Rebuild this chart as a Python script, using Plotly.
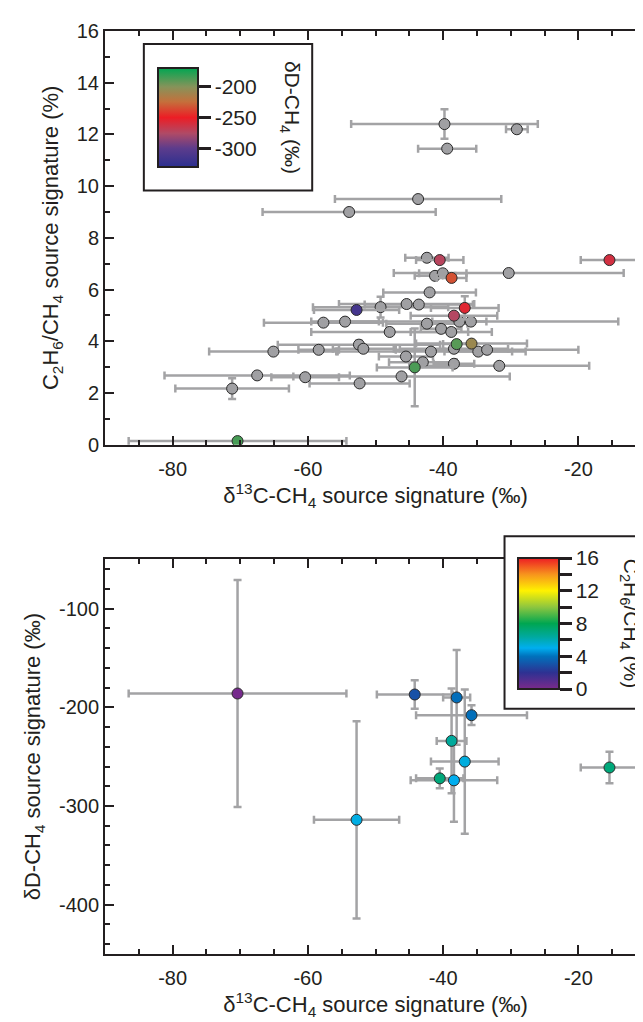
import plotly.graph_objects as go

# ---------------- data ----------------
# grey points: samples with no deltaD measurement (top panel only)
grey_d13c = [-39.8, -29.1, -39.4, -43.7, -53.9, -42.4, -30.3, -41.2, -40.05, -42.0,
             -45.4, -43.6, -49.25, -57.7, -54.5, -42.4, -37.6, -35.9, -40.3, -38.8,
             -47.9, -52.45, -51.8, -58.4, -65.1, -41.8, -38.4, -34.8, -33.5, -45.5,
             -43.0, -38.4, -31.7, -67.5, -60.4, -46.15, -52.35, -71.2]
grey_c2h6 = [12.4, 12.2, 11.45, 9.5, 9.0, 7.23, 6.64, 6.53, 6.63, 5.89,
             5.44, 5.42, 5.32, 4.72, 4.76, 4.68, 4.76, 4.76, 4.48, 4.36,
             4.36, 3.87, 3.71, 3.67, 3.60, 3.60, 3.71, 3.60, 3.67, 3.41,
             3.19, 3.13, 3.05, 2.68, 2.61, 2.64, 2.37, 2.17]
grey_d13c_err = [13.8, 1.6, 4.3, 12.3, 12.8, 3.2, 17.0, 3.0, 3.5, 6.85,
                 10.0, 8.0, 10.0, 8.8, 5.0, 6.0, 4.0, 21.8, 3.0, 6.0,
                 11.6, 12.0, 4.5, 3.0, 9.5, 14.0, 8.0, 5.0, 13.5, 4.0,
                 5.0, 3.0, 13.3, 13.7, 5.0, 16.0, 7.4, 8.4]
grey_c2h6_err = [0.57, 0.0, 0.0, 0.0, 0.0, 0.0, 0.0, 0.0, 0.0, 0.0,
                 0.0, 0.0, 0.4, 0.0, 0.0, 0.0, 0.0, 0.0, 0.0, 0.0,
                 0.0, 0.15, 0.0, 0.0, 0.0, 0.0, 0.0, 0.0, 0.0, 0.0,
                 0.0, 0.0, 0.0, 0.0, 0.0, 0.0, 0.0, 0.4]

# coloured points: samples with deltaD measurement (both panels)
iso_d13c = [-70.4, -44.2, -38.0, -35.8, -38.75, -36.8, -40.5, -38.4, -52.8, -15.4]
iso_c2h6 = [0.14, 2.99, 3.89, 3.91, 6.45, 5.29, 7.14, 4.99, 5.21, 7.14]
iso_dD = [-186, -187, -190, -208, -234, -255, -272, -274, -314, -261]
iso_d13c_err = [16.1, 5.6, 2.0, 8.2, 2.2, 5.0, 3.5, 6.4, 6.3, 4.25]
iso_c2h6_err = [0.0, 1.5, 0.0, 0.0, 0.0, 0.45, 0.0, 0.0, 0.0, 0.0]
iso_dD_err = [115, 14.5, 48, 10, 53, 73, 10, 42, 100, 16]

x_ticks = [-80, -60, -40, -20]
x_tick_text = ["-80", "-60", "-40", "-20"]
top_y_ticks = [0, 2, 4, 6, 8, 10, 12, 14, 16]
bot_y_ticks = [-400, -300, -200, -100]
bot_y_text = ["-400", "-300", "-200", "-100"]
dD_cbar_ticks = [-300, -250, -200]
dD_cbar_text = ["-300", "-250", "-200"]
c2_cbar_ticks = [0, 2, 4, 6, 8, 10, 12, 14, 16]
c2_cbar_text = ["0", "", "4", "", "8", "", "12", "", "16"]

# ---------------- styles ----------------
INK = "#231f20"
ERR = "#a3a3a5"
FONT = "Liberation Sans, Arial, Helvetica, sans-serif"

dD_scale = [
    [0.0, "#2b2f8f"],
    [0.19, "#5d3c8c"],
    [0.34, "#b04a66"],
    [0.5, "#ec1d25"],
    [0.66, "#c4703c"],
    [0.81, "#86935a"],
    [1.0, "#00a651"],
]
c2_scale = [
    [0.0, "#7b2a8c"],
    [0.125, "#2e3192"],
    [0.25, "#0072bc"],
    [0.3125, "#00aeef"],
    [0.4, "#00a99d"],
    [0.5, "#00a651"],
    [0.625, "#8dc63f"],
    [0.75, "#fff200"],
    [0.875, "#f7941d"],
    [1.0, "#ed1c24"],
]

fig = go.Figure()

err_style = dict(color=ERR, thickness=2.5, width=4)

fig.add_trace(go.Scatter(
    x=grey_d13c, y=grey_c2h6, mode="markers",
    error_x=dict(type="data", array=grey_d13c_err, **err_style),
    error_y=dict(type="data", array=grey_c2h6_err, **err_style),
    marker=dict(size=11, color="#a0a0a3", line=dict(color="#2a2a2a", width=1)),
    xaxis="x", yaxis="y", showlegend=False,
))
fig.add_trace(go.Scatter(
    x=iso_d13c, y=iso_c2h6, mode="markers",
    error_x=dict(type="data", array=iso_d13c_err, **err_style),
    error_y=dict(type="data", array=iso_c2h6_err, **err_style),
    marker=dict(size=11, color=iso_dD, coloraxis="coloraxis",
                line=dict(color="#2a2a2a", width=1)),
    xaxis="x", yaxis="y", showlegend=False,
))
fig.add_trace(go.Scatter(
    x=iso_d13c, y=iso_dD, mode="markers",
    error_x=dict(type="data", array=iso_d13c_err, **err_style),
    error_y=dict(type="data", array=iso_dD_err, **err_style),
    marker=dict(size=11, color=iso_c2h6, coloraxis="coloraxis2",
                line=dict(color="#2a2a2a", width=1)),
    xaxis="x2", yaxis="y2", showlegend=False,
))

axis_common = dict(
    showline=True, linewidth=2, linecolor=INK, mirror="allticks",
    ticks="inside", ticklen=9, tickwidth=2, tickcolor=INK,
    showgrid=False, zeroline=False,
    tickfont=dict(family=FONT, size=20, color=INK),
    title_font=dict(family=FONT, size=22, color=INK),
)

xtitle = "δ<sup>13</sup>C-CH<sub>4</sub> source signature (‰)"

def cbar(x, y, length, thickness, tickvals, ticktext):
    return dict(
        x=x, xanchor="left", y=y, yanchor="middle",
        lenmode="pixels", len=length, thickness=thickness, thicknessmode="pixels",
        xpad=0, ypad=0,
        outlinewidth=2, outlinecolor=INK,
        bgcolor="rgba(0,0,0,0)", borderwidth=0,
        ticks="outside", ticklen=12, tickwidth=2.5, tickcolor=INK,
        tickvals=tickvals, ticktext=ticktext,
        tickfont=dict(family=FONT, size=21, color=INK),
        title=dict(text=""),
    )

fig.update_layout(
    width=643, height=1022,
    margin=dict(l=97, r=3, t=23, b=76),
    paper_bgcolor="white", plot_bgcolor="white",
    font=dict(family=FONT, size=20, color=INK),
    xaxis=dict(domain=[0, 1], anchor="y", range=[-90, -10],
               tickvals=x_ticks, ticktext=x_tick_text,
               minor=dict(ticks="inside", ticklen=5, tickwidth=2, tickcolor=INK, dtick=5, tick0=-80),
               ticklabelstandoff=5,
               title=dict(text=xtitle, standoff=4), **axis_common),
    yaxis=dict(domain=[0.5518, 1], anchor="x", range=[0, 16], tickvals=top_y_ticks,
               minor=dict(ticks="inside", ticklen=5, tickwidth=2, tickcolor=INK, dtick=1, tick0=0),
               title=dict(text="C<sub>2</sub>H<sub>6</sub>/CH<sub>4</sub> source signature (%)", standoff=12),
               **axis_common),
    xaxis2=dict(domain=[0, 1], anchor="y2", range=[-90, -10],
                tickvals=x_ticks, ticktext=x_tick_text,
                minor=dict(ticks="inside", ticklen=5, tickwidth=2, tickcolor=INK, dtick=5, tick0=-80),
                ticklabelstandoff=5,
                title=dict(text=xtitle, standoff=2), **axis_common),
    yaxis2=dict(domain=[0, 0.4276], anchor="x2", range=[-450, -50],
                tickvals=bot_y_ticks, ticktext=bot_y_text,
                minor=dict(ticks="inside", ticklen=5, tickwidth=2, tickcolor=INK, dtick=20, tick0=-100),
                title=dict(text="δD-CH<sub>4</sub> source signature (‰)", standoff=12),
                **axis_common),
    coloraxis=dict(cmin=-330, cmax=-170, colorscale=dD_scale,
                   colorbar=cbar(0.0976, 0.9066, 99, 40, dD_cbar_ticks, dD_cbar_text)),
    coloraxis2=dict(cmin=0, cmax=16, colorscale=c2_scale,
                    colorbar=cbar(0.764, 0.358, 131, 41, c2_cbar_ticks, c2_cbar_text)),
    shapes=[
        dict(type="rect", xref="paper", yref="paper", layer="above",
             x0=0.0718, x1=0.383, y0=0.8272, y1=0.986,
             fillcolor="white", line=dict(color=INK, width=2)),
        dict(type="rect", xref="paper", yref="paper", layer="above",
             x0=0.7385, x1=1.02, y0=0.2657, y1=0.4525,
             fillcolor="white", line=dict(color=INK, width=2)),
    ],
    annotations=[
        dict(xref="paper", yref="paper", x=0.3425, y=0.9066, xanchor="center", yanchor="middle",
             text="δD-CH<sub>4</sub> (‰)", textangle=90, showarrow=False,
             font=dict(family=FONT, size=21, color=INK)),
        dict(xref="paper", yref="paper", x=0.972, y=0.358, xanchor="center", yanchor="middle",
             text="C<sub>2</sub>H<sub>6</sub>/CH<sub>4</sub> (%)", textangle=90, showarrow=False,
             font=dict(family=FONT, size=21, color=INK)),
    ],
)

fig.write_html("out.html")
